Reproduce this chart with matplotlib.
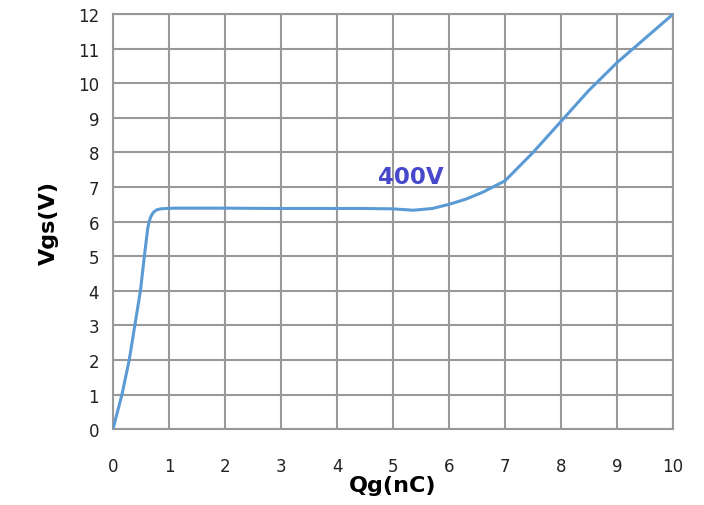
import numpy as np
from matplotlib import pyplot as plt

# Gate charge curve
qg = [0, 0.08, 0.16, 0.29, 0.39, 0.49, 0.56, 0.62, 0.645, 0.67, 0.7, 0.73, 0.78, 0.85,
      0.95, 1.1, 1.5, 2, 3, 4, 4.5, 5, 5.36, 5.7, 6, 6.3, 6.6, 7, 7.5, 8, 8.5, 9, 9.5, 10]
vgs = [0, 0.5, 1.0, 2.0, 3.0, 4.0, 5.0, 5.8, 6.0, 6.12, 6.22, 6.28, 6.34, 6.37,
       6.38, 6.39, 6.39, 6.39, 6.38, 6.38, 6.38, 6.37, 6.33, 6.38, 6.5, 6.65, 6.85,
       7.18, 8.0, 8.9, 9.8, 10.6, 11.3, 12.0]

xticks = list(range(0, 11))
yticks = list(range(0, 13))

fig = plt.figure(figsize=(7.04, 5.06), dpi=100)
ax = fig.add_axes([0.1605, 0.150, 0.7955, 0.820])

ax.plot(qg, vgs, color='#5B9BD5', linewidth=2.2, solid_capstyle='round',
        solid_joinstyle='round', zorder=3)
ax.text(5.32, 7.3, '400V', color='#4848CC', fontsize=16.5, fontweight='bold',
        ha='center', va='center')

ax.set_xlim(0, 10)
ax.set_ylim(0, 12)
ax.set_xticks(xticks)
ax.set_yticks(yticks)
ax.grid(True, color='#999999', linewidth=1.5)
ax.set_axisbelow(True)
for s in ax.spines.values():
    s.set_color('#999999')
    s.set_linewidth(1.5)
ax.tick_params(length=0, labelsize=12, colors='#222222')
ax.tick_params(axis='x', pad=20)
ax.tick_params(axis='y', pad=10)

ax.set_xlabel('Qg(nC)', fontsize=16, fontweight='bold', labelpad=0)
ax.set_ylabel('Vgs(V)', fontsize=16, fontweight='bold', labelpad=14)

fig.savefig('out.png', dpi=100)
